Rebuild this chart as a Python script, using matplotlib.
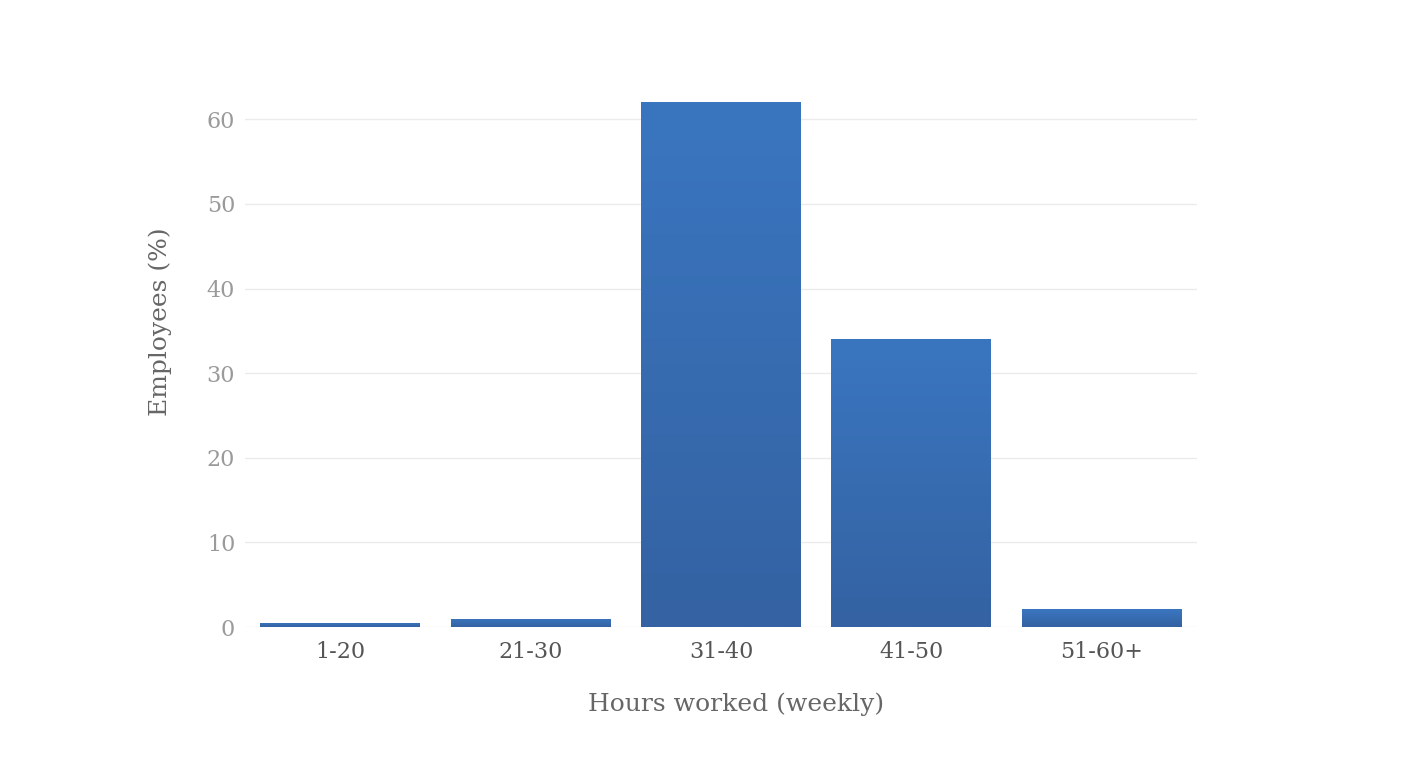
import numpy as np
import matplotlib
matplotlib.use("Agg")
import matplotlib.pyplot as plt
from matplotlib.colors import LinearSegmentedColormap

plt.rcParams["font.family"] = ["DejaVu Serif"]

categories = ["1-20", "21-30", "31-40", "41-50", "51-60+"]
employees_pct = [0.5, 1.0, 62, 34, 2.1]
y_ticks = [0, 10, 20, 30, 40, 50, 60]

fig = plt.figure(figsize=(14.24, 7.82), dpi=100)
ax = fig.add_axes([0.172, 0.1982, 0.6686, 0.7033])

x = np.arange(len(categories))
bars = ax.bar(x, employees_pct, width=0.84, color="none", edgecolor="none", zorder=2)

# vertical gradient inside each bar: lighter at top, darker at bottom
grad = LinearSegmentedColormap.from_list("bar", ["#3462a2", "#3a76c0"])
for rect, v in zip(bars, employees_pct):
    x0 = rect.get_x()
    w = rect.get_width()
    img = ax.imshow(np.linspace(0, 1, 256).reshape(-1, 1), cmap=grad,
                    extent=[x0, x0 + w, 0, v], origin="lower",
                    aspect="auto", zorder=2)
    img.set_clip_path(rect)

ax.set_xlim(-0.5, 4.5)
ax.set_ylim(0, 65)
ax.set_yticks(y_ticks)
ax.set_xticks(x)
ax.set_xticklabels(categories)

ax.grid(axis="y", color="#ebebeb", linewidth=1, zorder=0)
ax.set_axisbelow(True)
for s in ax.spines.values():
    s.set_visible(False)
ax.tick_params(axis="both", length=0)
ax.tick_params(axis="y", labelsize=16, labelcolor="#9a9a9a", pad=7)
ax.tick_params(axis="x", labelsize=16, labelcolor="#555555", pad=10)

ax.set_xlabel("Hours worked (weekly)", fontsize=18, color="#666666", labelpad=21)
ax.set_ylabel("Employees (%)", fontsize=18, color="#666666", labelpad=25)
# titles sit a bit off the axes centre in the original
ax.xaxis.label.set_x(0.516)
ax.yaxis.label.set_y(0.555)

fig.savefig("out.png", dpi=100)
